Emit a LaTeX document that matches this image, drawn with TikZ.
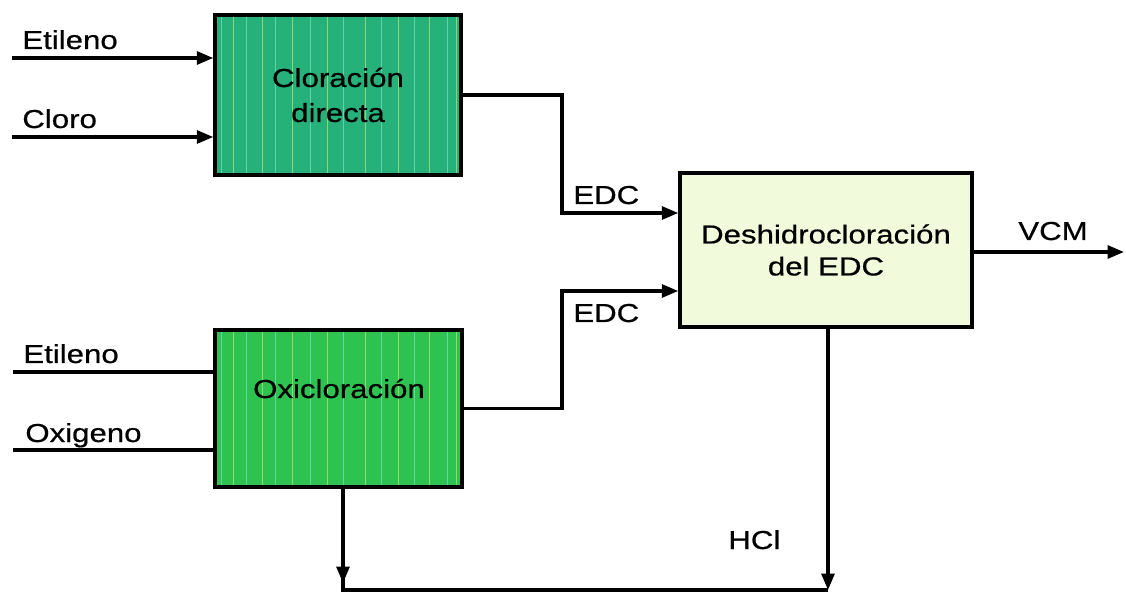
\documentclass[tikz,border=0pt]{standalone}
\usepackage{fontspec}
\setmainfont[FakeStretch=1.2,FakeBold=0.6]{Liberation Sans}
\usetikzlibrary{arrows.meta,calc}
\definecolor{cdgreen}{RGB}{38,176,122}
\definecolor{oxgreen}{RGB}{46,194,80}
\definecolor{dhfill}{RGB}{242,250,220}
\definecolor{stripeA}{RGB}{120,225,200}
\definecolor{stripeB}{RGB}{190,230,110}
\begin{document}
\begin{tikzpicture}[x=0.02cm,y=-0.02cm,
  lbl/.style={inner sep=0pt,font=\fontsize{14.8}{20}\selectfont},
  box/.style={draw=black,line width=2pt,inner sep=0pt},
  stripes/.style={path picture={
    \foreach \dx/\c in {6/stripeA,18/stripeB,31/stripeA,47/stripeB,60/stripeA,77/stripeB,95/stripeA,112/stripeB,128/stripeA,150/stripeB,166/stripeA,183/stripeB,199/stripeA,214/stripeB,232/stripeA,241/stripeB}
      \draw[\c,line width=0.4pt,opacity=0.7] ($(path picture bounding box.south west)+(\dx,0)$) -- ($(path picture bounding box.north west)+(\dx,0)$);}},
  flow/.style={line width=1.8pt},
  arr/.style={flow,-{Triangle[length=0.33cm,width=0.26cm]}},
]
\useasboundingbox[fill=white] (0,0) rectangle (1126,594);

% process boxes
\node[box,stripes,fill=cdgreen,minimum width=4.92cm,minimum height=3.2cm,align=center,
      font=\fontsize{14.8}{19.9}\selectfont] (cd) at (338,95) {Cloración\\directa};
\node[box,stripes,fill=oxgreen,minimum width=4.94cm,minimum height=3.14cm] (ox) at (338.5,408.5) {};
\node[lbl,anchor=base] (oxt) at (339,398) {Oxicloración};
\node[box,fill=dhfill,minimum width=5.84cm,minimum height=3.08cm,align=center,
      font=\fontsize{14.8}{18.2}\selectfont] (dh) at (826,250) {Deshidrocloración\\del EDC};

% inputs
\coordinate (e1) at (12,58);
\coordinate (c1) at (12,137);
\coordinate (e2) at (13,372);
\coordinate (o2) at (13,450);
\draw[arr] (e1) -- (e1 -| cd.west);
\draw[arr] (c1) -- (c1 -| cd.west);
\draw[flow] (e2) -- (e2 -| ox.west);
\draw[flow] (o2) -- (o2 -| ox.west);

% EDC streams
\coordinate (j1) at (562,213);
\coordinate (j2) at (562,291);
\draw[arr] (cd.east) -| (j1) -- (j1 -| dh.west);
\draw[arr] (ox.east) -| (j2) -- (j2 -| dh.west);

% VCM
\coordinate (v) at (1124,252);
\draw[arr] (v -| dh.east) -- (v);

% HCl recycle
\coordinate (hl) at (343,590);
\coordinate (hr) at (828,590);
\coordinate (ht) at (343,583);
\draw[arr] (hr |- dh.south) -- (hr);
\draw[flow] (hr) -- (hl) -- (hl |- ox.south);
\draw[arr] (hl |- ox.south) -- (ht);

% labels
\node[lbl,anchor=base west] (t1) at (22,49) {Etileno};
\node[lbl,anchor=base west] (t2) at (22,128) {Cloro};
\node[lbl,anchor=base west] (t3) at (23,363) {Etileno};
\node[lbl,anchor=base west] (t4) at (25,442) {Oxigeno};
\node[lbl,anchor=base west] (t5) at (573,204) {EDC};
\node[lbl,anchor=base west] (t6) at (573,322) {EDC};
\node[lbl,anchor=base west] (t7) at (1018,240) {VCM};
\node[lbl,anchor=base west] (t8) at (728,549) {HCl};
\end{tikzpicture}
\end{document}
